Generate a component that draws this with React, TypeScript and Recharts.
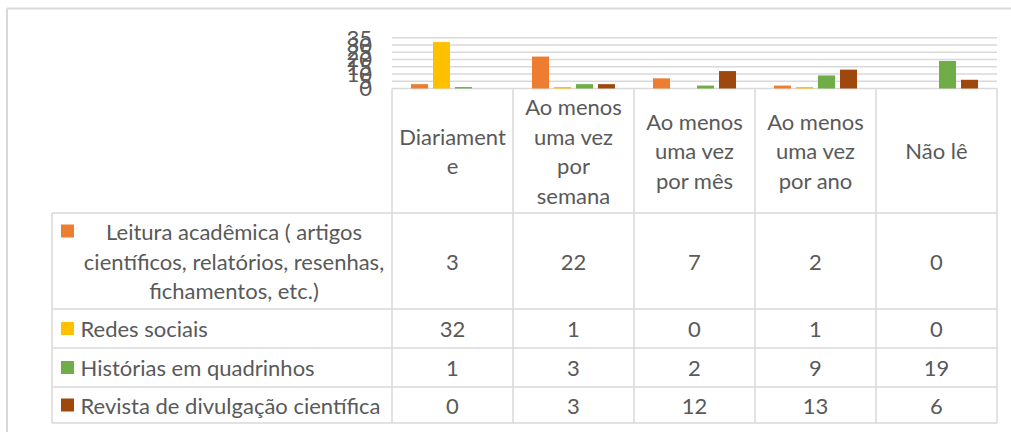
import React from "react";
import { BarChart, Bar, XAxis, YAxis, CartesianGrid } from "recharts";

const categories = [
  "Diariamente",
  "Ao menos uma vez por semana",
  "Ao menos uma vez por mês",
  "Ao menos uma vez por ano",
  "Não lê",
];
const headerLines = [
  ["Diariament", "e"],
  ["Ao menos", "uma vez", "por", "semana"],
  ["Ao menos", "uma vez", "por mês"],
  ["Ao menos", "uma vez", "por ano"],
  ["Não lê"],
];
const leitura = [3, 22, 7, 2, 0];
const redes = [32, 1, 0, 1, 0];
const historias = [1, 3, 2, 9, 19];
const revista = [0, 3, 12, 13, 6];
const yTicks = [0, 5, 10, 15, 20, 25, 30, 35];

const seriesNames = [
  "Leitura acadêmica ( artigos científicos, relatórios, resenhas, fichamentos, etc.)",
  "Redes sociais",
  "Histórias em quadrinhos",
  "Revista de divulgação científica",
];
const seriesLegendLines = [
  ["Leitura acadêmica ( artigos", "científicos, relatórios, resenhas,", "fichamentos, etc.)"],
  ["Redes sociais"],
  ["Histórias em quadrinhos"],
  ["Revista de divulgação científica"],
];
const seriesKeys = ["leitura", "redes", "historias", "revista"];
const seriesValues = [leitura, redes, historias, revista];
const colors = ["#ED7D31", "#FFC000", "#70AD47", "#9E480E"];

const data = categories.map((c, i) => ({
  name: c,
  leitura: leitura[i],
  redes: redes[i],
  historias: historias[i],
  revista: revista[i],
}));

const FONT = "Lato, 'Open Sans', sans-serif";
const TXT = "#595959";
const LINE = "#d9d9d9";
const FS = 22;
const LH = 29.5;

// table layout
const tableTop = 88.5;
const headerBottom = 213;
const rowBounds = [213, 309, 348, 387, 423];
const tableLeft = 52;
const labelRight = 392;
const tableRight = 997;

const ColumnTick = (props: any) => {
  const { x, payload } = props;
  const i = payload.index;
  const lines = headerLines[i];
  const hc = (tableTop + headerBottom) / 2;
  const start = hc - ((lines.length - 1) * LH) / 2;
  return (
    <g>
      {lines.map((l, k) => (
        <text key={k} x={x} y={start + k * LH} textAnchor="middle" dominantBaseline="central" fontFamily={FONT} fontSize={FS} fill={TXT}>
          {l}
        </text>
      ))}
      {seriesValues.map((vals, s) => (
        <text key={"v" + s} x={x} y={(rowBounds[s] + rowBounds[s + 1]) / 2} textAnchor="middle" dominantBaseline="central" fontFamily={FONT} fontSize={FS} fill={TXT}>
          {vals[i]}
        </text>
      ))}
    </g>
  );
};

export default function App() {
  const colW = (tableRight - labelRight) / categories.length;
  return (
    <div style={{ position: "absolute", left: 0, top: 0, width: 1011, height: 432, background: "#fff" }}>
      <BarChart
        width={1011}
        height={432}
        data={data}
        margin={{ top: 37.7, right: 14, bottom: 9, left: 0 }}
        barSize={17}
        barGap={5}
      >
        <CartesianGrid horizontal vertical={false} stroke={LINE} strokeWidth={1.5} />
        <YAxis
          width={392}
          domain={[0, 35]}
          ticks={yTicks}
          interval={0}
          tickLine={false}
          axisLine={false}
          tickSize={0}
          tickMargin={20}
          tick={{ fontFamily: FONT, fontSize: 22, fill: TXT }}
        />
        <XAxis
          dataKey="name"
          height={334.5}
          tickLine={false}
          axisLine={false}
          tickSize={0}
          tickMargin={0}
          interval={0}
          tick={<ColumnTick />}
        />
        {seriesKeys.map((k, s) => (
          <Bar key={k} dataKey={k} name={seriesNames[s]} fill={colors[s]} isAnimationActive={false} />
        ))}
      </BarChart>
      <svg width={1011} height={432} style={{ position: "absolute", left: 0, top: 0, pointerEvents: "none" }}>
        {/* outer chart border */}
        <line x1={7} y1={8.5} x2={1011} y2={8.5} stroke={LINE} strokeWidth={2} />
        <line x1={7} y1={8.5} x2={7} y2={432} stroke={LINE} strokeWidth={2} />
        {/* table vertical lines */}
        {categories.concat([""]).map((_, i) => (
          <line key={"v" + i} x1={labelRight + i * colW} y1={tableTop} x2={labelRight + i * colW} y2={rowBounds[4]} stroke={LINE} strokeWidth={1.5} />
        ))}
        <line x1={tableLeft} y1={headerBottom} x2={tableLeft} y2={rowBounds[4]} stroke={LINE} strokeWidth={1.5} />
        {rowBounds.map((y, i) => (
          <line key={"h" + i} x1={tableLeft} y1={y} x2={tableRight} y2={y} stroke={LINE} strokeWidth={1.5} />
        ))}
        {/* legend keys and labels */}
        {seriesLegendLines.map((lines, s) => {
          const yc = (rowBounds[s] + rowBounds[s + 1]) / 2;
          if (lines.length > 1) {
            const start = yc - ((lines.length - 1) * LH) / 2;
            return (
              <g key={s}>
                <rect x={61} y={start - 7} width={13} height={13} fill={colors[s]} />
                {lines.map((l, k) => (
                  <text key={k} x={234} y={start + k * LH} textAnchor="middle" dominantBaseline="central" fontFamily={FONT} fontSize={FS} fill={TXT}>
                    {l}
                  </text>
                ))}
              </g>
            );
          }
          return (
            <g key={s}>
              <rect x={61} y={yc - 6.5} width={13} height={13} fill={colors[s]} />
              <text x={80.5} y={yc} dominantBaseline="central" fontFamily={FONT} fontSize={FS} fill={TXT}>
                {lines[0]}
              </text>
            </g>
          );
        })}
      </svg>
    </div>
  );
}
